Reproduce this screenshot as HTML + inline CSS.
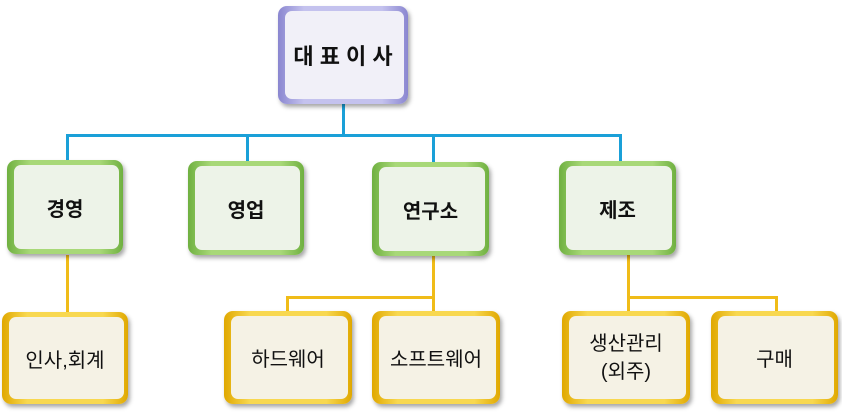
<!DOCTYPE html>
<html><head><meta charset="utf-8"><style>
body{margin:0;width:842px;height:413px;background:#fff;position:relative;overflow:hidden;font-family:"Liberation Sans","Noto Sans CJK KR",sans-serif}
.b{position:absolute;box-sizing:border-box;border-radius:9px;display:flex;align-items:center;justify-content:center;text-align:center;color:#111;box-shadow:2px 3px 4px rgba(0,0,0,.35)}
.b .i{position:absolute;left:7px;top:5px;right:4px;bottom:5px;border-radius:7px}
.b span{position:relative}
.p{background:linear-gradient(90deg,#8a86d0,#c4c2ee 20%,#c4c2ee 80%,#8a86d0)}
.p .i{background:#f1f0f8}
.g{background:linear-gradient(90deg,#6fb040,#a8d878 20%,#a8d878 80%,#6fb040);font-weight:bold;font-size:20px}
.g .i{background:#edf3e8}
.y{background:linear-gradient(90deg,#e0a800,#f8d850 20%,#f8d850 80%,#e0a800);font-size:20px}
.y .i{background:#f5f2e5}
.l{position:absolute;background:#1aa0d8}
.o{position:absolute;background:#f0bc18}
</style></head><body>
<div class="l" style="left:342px;top:104px;width:3px;height:33px"></div>
<div class="l" style="left:66px;top:134px;width:556px;height:3px"></div>
<div class="l" style="left:66px;top:134px;width:3px;height:28px"></div>
<div class="l" style="left:246px;top:134px;width:3px;height:28px"></div>
<div class="l" style="left:432px;top:134px;width:3px;height:28px"></div>
<div class="l" style="left:619px;top:134px;width:3px;height:28px"></div>
<div class="o" style="left:66px;top:255px;width:3px;height:58px"></div>
<div class="o" style="left:432px;top:255px;width:3px;height:58px"></div>
<div class="o" style="left:286px;top:296px;width:149px;height:3px"></div>
<div class="o" style="left:286px;top:296px;width:3px;height:17px"></div>
<div class="o" style="left:627px;top:255px;width:3px;height:58px"></div>
<div class="o" style="left:627px;top:296px;width:150px;height:3px"></div>
<div class="o" style="left:775px;top:296px;width:3px;height:17px"></div>

<div class="b p" style="left:278px;top:6px;width:130px;height:98px;font-weight:bold;font-size:22px"><div class="i"></div><span>대 표 이 사</span></div>
<div class="b g" style="left:7px;top:160px;width:116px;height:94px"><div class="i"></div><span>경영</span></div>
<div class="b g" style="left:188px;top:161px;width:116px;height:94px"><div class="i"></div><span>영업</span></div>
<div class="b g" style="left:372px;top:162px;width:117px;height:94px"><div class="i"></div><span>연구소</span></div>
<div class="b g" style="left:559px;top:161px;width:117px;height:94px"><div class="i"></div><span>제조</span></div>
<div class="b y" style="left:2px;top:312px;width:126px;height:92px"><div class="i"></div><span>인사,회계</span></div>
<div class="b y" style="left:224px;top:311px;width:128px;height:93px"><div class="i"></div><span>하드웨어</span></div>
<div class="b y" style="left:372px;top:311px;width:128px;height:93px"><div class="i"></div><span>소프트웨어</span></div>
<div class="b y" style="left:562px;top:311px;width:128px;height:93px;line-height:1.4"><div class="i"></div><span>생산관리<br>(외주)</span></div>
<div class="b y" style="left:711px;top:311px;width:127px;height:93px"><div class="i"></div><span>구매</span></div>
</body></html>
